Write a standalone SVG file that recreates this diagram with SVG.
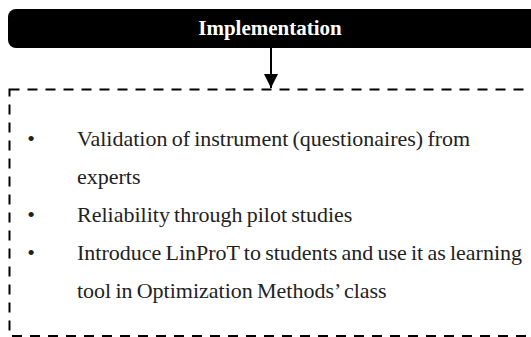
<svg xmlns="http://www.w3.org/2000/svg" width="531" height="337" viewBox="0 0 531 337">
<style>
.hdr{font-family:"Liberation Serif","Times New Roman",serif;font-weight:bold;font-size:21px;fill:#fff}
.body{font-family:"Liberation Serif","Times New Roman",serif;font-size:22px;word-spacing:-1.3px;fill:#222}
.bul{font-family:"Liberation Serif","Times New Roman",serif;font-size:22px;fill:#222}
.dash{fill:none;stroke:#000;stroke-width:2;stroke-dasharray:10 8}
</style>
<defs>
<marker id="ah" markerWidth="14" markerHeight="14" viewBox="0 0 14 14" refX="14" refY="7" orient="auto" markerUnits="userSpaceOnUse">
<path d="M0,0 L14,7 L0,14 Z" fill="#000"/>
</marker>
</defs>
<rect width="531" height="337" fill="#fff"/>
<g id="header">
<rect x="8" y="9" width="540" height="39" rx="8" ry="8" fill="#000"/>
<text class="hdr" x="270" y="35" text-anchor="middle">Implementation</text>
</g>
<g id="connectors">
<line x1="271" y1="48" x2="271" y2="88" stroke="#000" stroke-width="2" marker-end="url(#ah)"/>
</g>
<g id="content">
<rect class="dash" x="9.5" y="89.5" width="540" height="246.5"/>
<text class="bul" x="31" y="146" text-anchor="middle">•</text>
<text class="body" x="77" y="146">Validation of instrument (questionaires) from</text>
<text class="body" x="77" y="184">experts</text>
<text class="bul" x="31" y="222" text-anchor="middle">•</text>
<text class="body" x="77" y="222">Reliability through pilot studies</text>
<text class="bul" x="31" y="260" text-anchor="middle">•</text>
<text class="body" x="77" y="260">Introduce LinProT to students and use it as learning</text>
<text class="body" x="77" y="298">tool in Optimization Methods’ class</text>
</g>
</svg>
